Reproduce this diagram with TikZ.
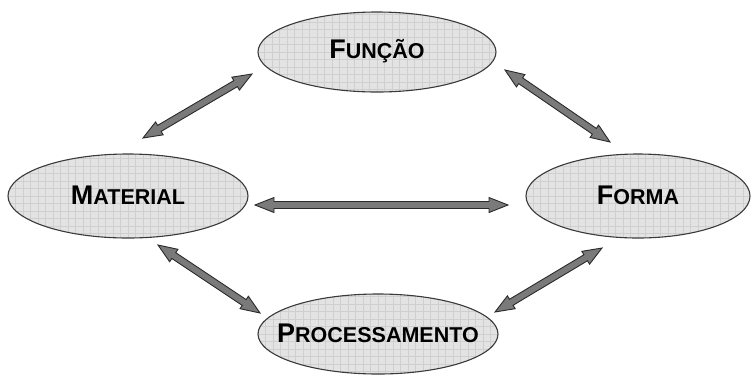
\documentclass[tikz,border=0pt]{standalone}
\usepackage{fontspec}
\setmainfont{Liberation Sans}
\usetikzlibrary{shapes.geometric,calc}
\definecolor{ellfill}{HTML}{E3E3E3}
\definecolor{gridc}{HTML}{CFCFCF}
\definecolor{ellline}{HTML}{3A3A3A}
\definecolor{arrfill}{HTML}{7A7A7A}
\definecolor{arrline}{HTML}{2A2A2A}
\newcommand\bigsc[2]{{\fontsize{27}{27}\selectfont\bfseries #1}{\fontsize{21.5}{21.5}\selectfont\bfseries #2}}
\newcommand\dblarr[2]{%
  \path ($(#1)!19pt!(#2)$) coordinate (hA) ($(#2)!19pt!(#1)$) coordinate (hB);
  \filldraw[arrowsty] (#1) -- ($(hA)!7.5pt!90:(#2)$) -- ($(hA)!3.5pt!90:(#2)$)
    -- ($(hB)!3.5pt!-90:(#1)$) -- ($(hB)!7.5pt!-90:(#1)$) -- (#2)
    -- ($(hB)!7.5pt!90:(#1)$) -- ($(hB)!3.5pt!90:(#1)$)
    -- ($(hA)!3.5pt!-90:(#2)$) -- ($(hA)!7.5pt!-90:(#2)$) -- cycle;}
\tikzset{
  ell/.style={ellipse, draw=ellline, line width=1.1pt, fill=ellfill, inner sep=0pt,
    path picture={\draw[gridc, line width=0.4pt] (path picture bounding box.south west) grid[step=7.5pt] (path picture bounding box.north east);}},
  arrowsty/.style={fill=arrfill, draw=arrline, line width=0.9pt, line join=miter}
}
\begin{document}
\begin{tikzpicture}[x=1pt,y=-1pt]
\useasboundingbox (0,0) rectangle (752,376);
\node[ell, minimum width=238pt, minimum height=80pt] (fun) at (377,52) {};
\node at ([yshift=1pt]fun.center) {\bigsc{F}{UNÇÃO}};
\node[ell, minimum width=240pt, minimum height=84pt] (mat) at (128,196) {};
\node at ([yshift=1pt]mat.center) {\bigsc{M}{ATERIAL}};
\node[ell, minimum width=224pt, minimum height=84pt] (for) at (638,196) {};
\node at ([yshift=1pt]for.center) {\bigsc{F}{ORMA}};
\node[ell, minimum width=240pt, minimum height=80pt] (pro) at (378,334) {};
\node at ([yshift=1pt]pro.center) {\bigsc{P}{ROCESSAMENTO}};
\coordinate (a1) at (143,138); \coordinate (a2) at (252,74);
\coordinate (b1) at (505,70); \coordinate (b2) at (610,142);
\coordinate (c1) at (255,205); \coordinate (c2) at (508,205);
\coordinate (d1) at (158,245); \coordinate (d2) at (260,313);
\coordinate (e1) at (495,312); \coordinate (e2) at (602,248);
\dblarr{a1}{a2}
\dblarr{b1}{b2}
\dblarr{c1}{c2}
\dblarr{d1}{d2}
\dblarr{e1}{e2}
\end{tikzpicture}
\end{document}
